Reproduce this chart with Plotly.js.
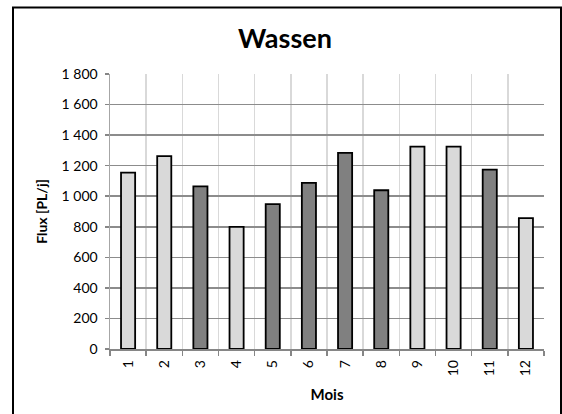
<!DOCTYPE html>
<html>
<head>
<meta charset="utf-8">
<script src="https://cdn.plot.ly/plotly-3.0.1.min.js"></script>
<style>
html,body{margin:0;padding:0;background:#fff;}
#chart{width:562px;height:414px;}
</style>
</head>
<body>
<div id="chart"></div>
<script>
const months = ['1','2','3','4','5','6','7','8','9','10','11','12'];
const flux = [1155, 1262, 1064, 800, 948, 1088, 1284, 1039, 1325, 1325, 1174, 856];
const shade = ['light','light','dark','light','dark','dark','dark','dark','light','light','dark','light'];
const yTicks = [0, 200, 400, 600, 800, 1000, 1200, 1400, 1600, 1800];

const shadeColor = {light: '#D9D9D9', dark: '#808080'};
const W = 562, H = 414;
const M = {l: 110, r: 18, t: 73.5, b: 65, pad: 0};
const pw = W - M.l - M.r, ph = H - M.t - M.b;
const px = v => (v - M.l) / pw;
const py = v => (H - M.b - v) / ph;

const FONT = 'Lato, "Open Sans", sans-serif';

const trace = {
  type: 'bar',
  x: months,
  y: flux,
  marker: {
    color: shade.map(s => shadeColor[s]),
    line: {color: '#000000', width: 1.8}
  },
  hoverinfo: 'x+y'
};

const layout = {
  width: W, height: H,
  margin: M,
  paper_bgcolor: '#ffffff',
  plot_bgcolor: '#ffffff',
  separators: ', ',
  bargap: 0.61,
  showlegend: false,
  font: {family: FONT, size: 14, color: '#000'},
  title: {
    text: '<b>Wassen</b>',
    font: {family: FONT, size: 27, color: '#000'},
    xref: 'container', yref: 'container',
    x: 285 / W, y: 1 - 39 / H,
    xanchor: 'center', yanchor: 'middle'
  },
  xaxis: {
    type: 'category',
    tickson: 'boundaries',
    showgrid: true,
    gridcolor: '#D9D9D9',
    gridwidth: 1.5,
    showline: true,
    linecolor: '#868686',
    linewidth: 1.5,
    ticks: 'outside',
    ticklen: 5,
    tickcolor: '#868686',
    tickwidth: 1.5,
    tickangle: -90,
    ticklabelstandoff: 4,
    tickfont: {family: FONT, size: 14, color: '#000'},
    automargin: false,
    title: {text: '<b>Mois</b>', font: {family: FONT, size: 15, color: '#000'}, standoff: 14}
  },
  yaxis: {
    range: [0, 1800],
    tickvals: yTicks,
    separatethousands: true,
    showgrid: true,
    gridcolor: '#8C8C8C',
    gridwidth: 1.5,
    zeroline: false,
    showline: true,
    linecolor: '#A6A6A6',
    linewidth: 1.5,
    ticks: 'outside',
    ticklen: 4,
    tickcolor: '#868686',
    tickwidth: 1.5,
    ticklabelstandoff: 4,
    tickfont: {family: FONT, size: 14, color: '#000'},
    automargin: false,
    title: {text: '<b>Flux [PL/j]</b>', font: {family: FONT, size: 14, color: '#000'}, standoff: 10}
  },
  shapes: [{
    type: 'rect', xref: 'paper', yref: 'paper', layer: 'above',
    x0: px(13), x1: px(561), y0: py(416), y1: py(7),
    line: {color: '#000000', width: 2}
  }]
};

Plotly.newPlot('chart', [trace], layout, {displayModeBar: false, staticPlot: true});
</script>
</body>
</html>
